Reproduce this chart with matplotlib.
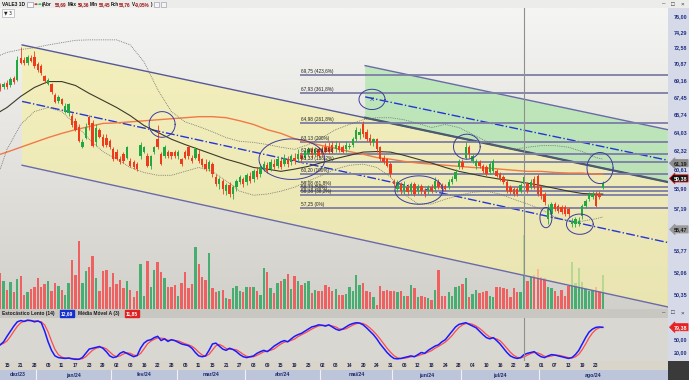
import numpy as np
import pandas as pd
import matplotlib
matplotlib.use("Agg")
import matplotlib.pyplot as plt
from matplotlib.colors import LinearSegmentedColormap
from matplotlib.patches import Rectangle, Polygon
from matplotlib.transforms import blended_transform_factory, offset_copy

plt.rcParams["font.family"] = ["Liberation Sans", "DejaVu Sans"]

# ---------------------------------------------------------------------------
# data (VALE3, daily, 2023-12-13 .. 2024-08-27)
# ---------------------------------------------------------------------------
first_day = "2023-12-13"
b3_holidays = ["2023-12-25", "2023-12-29", "2024-01-01", "2024-02-12",
               "2024-02-13", "2024-03-29", "2024-05-01", "2024-05-30"]

opens = [68.75, 68.45, 68.95, 68.65, 69.45, 69.25, 71.5, 71.3, 71.0, 71.5,
         71.6, 70.9, 70.7, 69.65, 68.85, 68.85, 67.65, 67.05, 67.25, 66.05,
         65.95, 65.65, 65.15, 64.6, 62.7, 63.55, 65.55, 64.95, 63.1, 64.3,
         63.65, 63.55, 63.2, 62.45, 62.2, 61.55, 62.0, 61.7, 61.35, 61.25,
         61.1, 61.8, 62.25, 61.8, 60.9, 62.2, 63.4, 62.0, 61.8, 62.2,
         62.2, 62.2, 61.8, 61.55, 62.2, 62.65, 61.7, 61.7, 62.0, 61.55,
         61.1, 60.65, 61.1, 59.95, 59.3, 59.6, 58.7, 59.2, 58.45, 59.05,
         59.5, 59.75, 59.5, 60.0, 59.75, 60.45, 60.2, 60.65, 61.0, 60.65,
         61.1, 60.9, 61.35, 61.1, 61.55, 61.25, 61.7, 61.55, 61.9, 61.7,
         62.0, 62.45, 62.0, 62.45, 62.45, 62.65, 62.7, 62.9, 62.45, 62.8,
         62.65, 62.45, 62.65, 62.9, 63.4, 63.75, 64.8, 64.1, 63.55, 63.1,
         63.4, 62.65, 61.7, 61.55, 61.1, 59.6, 58.9, 59.3, 58.7, 59.05,
         58.7, 59.3, 58.7, 59.15, 58.7, 58.7, 59.05, 58.9, 59.5, 59.2,
         59.15, 59.05, 59.5, 59.75, 60.8, 61.25, 61.7, 62.7, 61.35, 60.9,
         61.25, 60.9, 60.8, 60.35, 60.45, 60.45, 60.2, 59.95, 59.5, 59.05,
         58.9, 58.9, 58.7, 59.3, 59.3, 59.05, 59.75, 60.0, 59.05, 58.45,
         56.35, 56.75, 57.6, 57.4, 57.35, 57.35, 57.15, 55.9, 55.9, 55.9,
         56.6, 57.4, 58.0, 58.2, 58.45, 58.45, 58.95]
highs = [68.95, 69.05, 69.25, 69.55, 69.65, 71.7, 72.7, 71.6, 71.8, 71.8,
         72.2, 71.1, 70.9, 69.75, 69.45, 68.95, 67.85, 67.65, 67.35, 66.85,
         66.85, 65.95, 65.45, 64.8, 63.4, 64.9, 65.75, 65.25, 64.8, 64.5,
         63.85, 63.85, 63.4, 62.65, 62.45, 61.8, 62.2, 62.8, 61.7, 61.45,
         61.25, 63.1, 62.8, 62.1, 61.9, 62.8, 64.7, 62.2, 62.9, 62.35,
         62.25, 62.35, 62.35, 61.7, 62.35, 62.8, 61.9, 62.65, 62.45, 61.7,
         61.55, 61.45, 61.25, 60.2, 59.95, 59.75, 59.4, 59.5, 59.2, 59.75,
         60.1, 59.95, 60.3, 60.35, 60.65, 60.8, 61.1, 61.35, 61.25, 61.55,
         61.55, 61.8, 61.7, 62.0, 61.8, 62.0, 62.1, 62.45, 62.25, 62.45,
         62.7, 62.7, 62.7, 62.65, 62.8, 63.0, 63.1, 63.2, 63.2, 63.1,
         62.9, 63.2, 63.0, 63.65, 64.6, 64.5, 65.15, 64.4, 63.85, 63.55,
         63.55, 62.8, 61.9, 61.7, 61.25, 59.75, 59.65, 59.5, 59.6, 59.3,
         59.5, 59.5, 59.3, 59.3, 58.95, 59.2, 59.3, 59.95, 59.75, 59.4,
         59.3, 59.75, 60.0, 60.65, 61.55, 61.55, 63.1, 62.9, 62.0, 61.55,
         61.45, 61.1, 61.0, 61.25, 61.55, 60.65, 60.35, 60.1, 59.65, 59.2,
         59.05, 59.05, 59.4, 60.1, 59.5, 59.75, 60.0, 60.2, 59.2, 58.6,
         57.6, 57.75, 57.75, 57.6, 57.5, 57.5, 57.35, 56.4, 56.5, 56.5,
         57.6, 58.0, 58.6, 58.7, 58.7, 58.7, 59.55]
lows = [68.05, 68.25, 68.25, 68.45, 68.85, 69.15, 70.9, 70.8, 70.8, 71.1,
        70.5, 70.0, 69.75, 68.95, 68.65, 67.75, 66.85, 66.85, 66.65, 65.95,
        65.65, 64.6, 64.2, 63.1, 62.55, 63.4, 64.3, 62.65, 62.8, 63.55,
        62.65, 62.7, 62.45, 61.35, 61.45, 61.1, 61.2, 61.55, 60.8, 60.65,
        60.45, 61.6, 62.1, 60.8, 60.65, 62.0, 62.45, 61.0, 61.7, 61.7,
        61.6, 61.7, 61.6, 60.9, 61.6, 61.6, 61.2, 61.55, 61.2, 60.8,
        60.45, 60.45, 59.95, 59.15, 58.9, 58.45, 58.35, 58.2, 58.0, 58.7,
        59.3, 59.05, 59.2, 59.4, 59.5, 59.75, 59.95, 60.45, 60.3, 60.45,
        60.65, 60.75, 60.65, 60.9, 60.8, 61.0, 61.1, 61.25, 61.25, 61.55,
        61.8, 61.7, 61.8, 61.7, 61.8, 62.1, 62.0, 62.1, 62.25, 62.2,
        62.1, 62.25, 62.45, 62.7, 63.2, 63.45, 63.65, 63.2, 62.9, 62.8,
        62.25, 61.35, 61.1, 60.8, 59.95, 59.05, 58.6, 58.45, 58.45, 58.35,
        58.45, 58.25, 58.45, 58.45, 58.2, 58.45, 58.5, 58.7, 58.9, 58.7,
        58.7, 58.9, 59.3, 59.6, 60.65, 60.65, 61.55, 61.7, 61.2, 60.65,
        60.75, 60.3, 60.0, 60.2, 60.3, 59.95, 59.6, 59.3, 58.5, 58.45,
        58.25, 58.25, 58.5, 59.15, 58.5, 58.9, 58.9, 58.25, 58.0, 57.5,
        55.9, 56.5, 57.0, 56.85, 56.75, 56.6, 56.5, 55.65, 55.65, 55.75,
        56.35, 57.25, 57.85, 58.0, 57.35, 58.0, 58.85]
closes = [68.25, 68.85, 68.45, 69.35, 69.05, 71.3, 71.0, 71.0, 71.6, 71.2,
          70.7, 70.2, 69.9, 69.15, 69.25, 67.95, 66.95, 67.45, 66.75, 66.55,
          66.75, 64.7, 64.3, 63.2, 63.1, 64.6, 64.7, 62.8, 64.5, 63.65,
          62.8, 62.9, 62.65, 61.55, 61.55, 61.25, 61.35, 62.65, 60.9, 60.8,
          60.65, 62.9, 62.65, 60.9, 61.8, 62.65, 62.65, 61.1, 62.7, 61.8,
          61.8, 61.8, 62.2, 61.1, 61.7, 61.8, 61.35, 62.45, 61.35, 61.0,
          60.65, 61.25, 60.2, 59.3, 59.75, 58.9, 59.2, 58.45, 59.05, 59.6,
          59.95, 59.3, 60.1, 59.6, 60.45, 59.95, 60.8, 61.1, 60.45, 61.25,
          60.8, 61.55, 60.8, 61.7, 61.1, 61.8, 61.35, 62.0, 61.55, 62.2,
          62.45, 61.9, 62.45, 61.8, 62.0, 62.25, 62.2, 62.25, 62.9, 62.35,
          62.25, 62.9, 62.8, 63.4, 64.3, 64.1, 63.85, 63.4, 63.1, 63.4,
          62.45, 61.55, 61.25, 60.9, 60.2, 59.3, 59.5, 58.7, 59.3, 58.6,
          59.3, 58.45, 59.15, 58.7, 58.45, 59.05, 58.7, 59.6, 59.05, 58.9,
          58.9, 59.5, 59.75, 60.35, 61.35, 60.8, 62.7, 62.0, 61.8, 61.35,
          60.9, 60.45, 60.2, 61.1, 61.35, 60.0, 59.75, 59.5, 58.7, 58.6,
          58.45, 58.45, 59.2, 59.95, 58.7, 59.5, 59.05, 58.45, 58.25, 57.75,
          57.15, 57.6, 57.15, 57.0, 56.9, 56.75, 56.75, 56.15, 56.35, 56.15,
          57.4, 57.85, 58.45, 58.45, 57.4, 58.2, 59.38]
volume_mm = [35.7, 27.7, 19.0, 26.7, 16.7, 29.7, 33.0, 14.3, 16.7, 20.0,
             21.7, 31.0, 22.3, 25.0, 27.7, 17.7, 25.7, 23.3, 19.0, 14.3,
             25.7, 49.0, 34.3, 67.7, 25.7, 38.3, 42.3, 53.3, 30.7, 17.7,
             38.3, 39.0, 22.3, 35.7, 25.0, 29.0, 21.0, 28.3, 19.0, 12.3,
             17.7, 45.0, 13.3, 47.7, 21.7, 39.0, 46.7, 36.7, 31.0, 22.3,
             22.3, 24.3, 13.3, 26.3, 36.7, 21.0, 25.0, 61.7, 45.0, 32.3,
             29.0, 56.0, 20.7, 16.7, 17.7, 19.0, 11.0, 10.0, 21.0, 23.0,
             18.3, 16.7, 22.3, 22.3, 22.3, 18.3, 14.3, 40.7, 36.7, 21.0,
             15.7, 26.3, 28.3, 29.7, 35.0, 19.7, 33.3, 27.7, 24.0, 26.3,
             28.3, 15.7, 19.0, 18.3, 17.7, 24.3,
             22.3, 18.3, 20.0, 14.3, 14.0, 15.0, 21.7, 17.7, 34.3, 23.7,
             25.7, 18.3, 16.7, 11.7, 4.3, 22.7, 18.3, 19.0, 18.3, 17.7,
             16.7, 17.7, 13.3, 13.3, 24.0, 21.0, 12.3, 13.3, 11.7, 11.0,
             9.0, 19.0, 39.0, 13.3, 13.3, 17.3, 13.3, 22.3, 23.3, 25.0,
             31.0, 11.7, 15.0, 19.0, 15.7, 16.7, 17.7, 13.3, 11.7, 21.7,
             22.3, 21.0, 20.0, 12.3, 21.0, 16.7, 16.7, 74.3, 27.7, 33.3,
             34.3, 40.0, 32.3, 31.0, 22.3, 21.0, 18.3, 13.3, 19.0, 13.3,
             23.3, 47.3, 25.7, 40.7, 27.3, 20.0, 18.3, 17.7, 22.3, 17.7,
             34.3]
stoch_k = [38, 45, 58, 70, 82, 92, 95, 93, 96, 95, 92, 94,
           90, 70, 45, 25, 12, 8, 7, 6, 7, 5,
           4, 4, 8, 18, 28, 30, 32, 34, 30, 22,
           12, 8, 10, 18, 22, 18, 14, 10, 13, 30,
           42, 48, 50, 55, 58, 48, 52, 46, 50, 48,
           44, 40, 38, 36, 30, 20, 12, 10, 12, 25,
           40, 42, 35, 28, 25, 30, 27, 22, 15, 10,
           8, 10, 12, 18, 22, 25, 22, 28, 35, 40,
           45, 48, 45, 52, 58, 62, 65, 70, 75, 80,
           82, 85, 84, 82, 85, 80, 75, 72, 75, 80,
           85, 88, 90, 89, 85, 78, 70, 62, 52, 40,
           30, 20, 12, 6, 5, 6, 8, 10, 12, 10,
           15, 20, 18, 25, 30, 35, 38, 45, 50, 60,
           70, 80, 86, 88, 90, 86, 82, 78, 70, 62,
           55, 52, 55, 48, 40, 30, 20, 12, 8, 6,
           8, 15, 18, 20, 22, 15, 10, 8, 12, 15,
           14, 12, 10, 8, 6, 8, 15, 25, 40, 55,
           68, 75, 79, 80, 79]

# indicator lines, read every 4th session (session index -2, 0, 4, ..., 172, 174)
ma_short = [66.05, 66.45, 67.55, 68.45, 69.05, 69.05, 68.65, 67.85, 67.15, 66.45,
            65.65, 64.7, 64.05, 63.4, 62.9, 62.45, 62.0, 61.55, 61.2, 60.8,
            60.65, 60.45, 60.65, 60.9, 61.25, 61.6, 61.9, 62.2, 62.25, 62.2,
            61.9, 61.55, 61.2, 60.8, 60.45, 60.2, 59.95, 59.75, 59.6, 59.4,
            59.2, 58.95, 58.7, 58.5, 58.45, 58.45]
ma_long = [62.0, 62.2, 62.65, 63.1, 63.55, 63.95, 64.3, 64.6, 64.9, 64.95,
           65.05, 65.15, 65.25, 65.35, 65.45, 65.55, 65.55, 65.45, 65.15, 64.8,
           64.3, 63.95, 63.45, 63.1, 62.8, 62.55, 62.25, 62.0, 61.7, 61.55,
           61.35, 61.2, 61.1, 61.0, 60.9, 60.8, 60.75, 60.65, 60.55, 60.45,
           60.45, 60.35, 60.3, 60.3, 60.2, 60.2]
bb_upper = [71.8, 72.1, 72.4, 72.6, 72.9, 73.15, 73.4, 73.45, 73.45, 73.45,
            72.9, 71.1, 68.25, 66.05, 65.05, 64.6, 64.1, 63.55, 63.2, 63.1,
            62.9, 62.65, 62.45, 62.9, 63.55, 64.3, 64.8, 65.25, 65.45, 65.45,
            65.25, 64.9, 64.5, 64.8, 64.5, 63.85, 63.2, 62.65, 62.45, 62.65,
            62.8, 62.8, 62.65, 62.25, 61.7, 61.55]
bb_lower = [60.65, 62.45, 64.8, 66.05, 66.45, 66.05, 64.8, 63.4, 62.25, 61.55,
            60.8, 60.35, 60.1, 60.1, 60.45, 60.8, 60.45, 59.6, 58.7, 58.35,
            58.45, 58.7, 59.05, 59.6, 60.1, 60.65, 61.0, 61.1, 60.8, 59.95,
            58.45, 57.6, 57.6, 58.0, 58.35, 58.6, 58.7, 58.45, 58.0, 57.6,
            57.15, 56.5, 56.15, 56.15, 56.35, 56.5]

# regression channels: (start session, end session, top, mid, bottom prices)
channel_yellow = (4.4, 193.0, (72.9, 59.5), (67.05, 54.4), (61.0, 49.45))
channel_green = (104.6, 193.0, (70.7, 64.3), (67.5, 61.45), (65.45, 59.5))

fib_prices = [69.75, 67.93, 64.98, 63.13, 62.00, 61.33, 60.20, 59.08, 58.73, 58.38, 57.25]
fib_pcts = ["423,6%", "361,8%", "261,8%", "200%", "161,8%", "138,2%", "100%",
            "61,8%", "50%", "38,2%", "0%"]
fib_start = 85.6

# hand-drawn ellipses: session, price, half width (sessions), half height (log)
ellipses = [(45.3, 64.8, 3.8, 0.019), (83.2, 61.55, 9.6, 0.030),
            (106.6, 67.25, 3.8, 0.015), (134.3, 62.7, 3.9, 0.0185),
            (120.3, 58.8, 7.0, 0.021), (157.4, 56.45, 1.75, 0.015),
            (167.3, 55.9, 3.9, 0.015), (173.2, 60.75, 3.8, 0.023)]
cursor_session = 151

price_ticks = [50.35, 52.06, 53.77, 55.48, 57.19, 58.90, 60.61, 62.32,
               64.03, 65.74, 67.45, 69.16, 70.87, 72.58, 74.29, 76.00]

# ---------------------------------------------------------------------------
W, H = 689, 380
XL = (-2.05, 193.05)
fig = plt.figure(figsize=(W / 100, H / 100), dpi=100)
fig.patch.set_facecolor("#d9d7d1")


def axes_px(x0, y0, x1, y1):
    return fig.add_axes([x0 / W, 1 - y1 / H, (x1 - x0) / W, (y1 - y0) / H])


def rect_px(x0, y0, x1, y1, fc, ec="none", lw=0, z=0):
    fig.add_artist(Rectangle((x0 / W, 1 - y1 / H), (x1 - x0) / W, (y1 - y0) / H,
                             transform=fig.transFigure, fc=fc, ec=ec, lw=lw, zorder=z))


def text_px(x, y, s, **kw):
    return fig.text(x / W, 1 - y / H, s, **kw)


def fmt(v):
    return f"{v:.2f}".replace(".", ",")


cal = pd.bdate_range(first_day, "2024-10-31")
cal = cal[~cal.isin(pd.to_datetime(b3_holidays))]
n = len(closes)
sess = np.arange(n) - 2
line_sess = np.array([-2] + list(range(0, 173, 4)) + [174])

o, h, l, c = (np.array(a) for a in (opens, highs, lows, closes))
up = c >= o

# ---- window frame ----
rect_px(0, 0, 689, 8, "#ececea", z=-1)
rect_px(668, 8, 689, 361, "#d6d9e8", z=-1)
rect_px(0, 309, 668, 318, "#c9c7c1", z=-1)
rect_px(0, 361, 668, 370, "#d9d5ca", z=-1)
rect_px(0, 370, 668, 380, "#bcc5da", z=-1)
rect_px(668, 361, 689, 380, "#3a3a3a", z=-1)

# ---- volume + background ----
vax = axes_px(0, 8, 668, 309)
bg = LinearSegmentedColormap.from_list("bg", ["#f5f5f3", "#d2d0ca"])
vax.imshow(np.linspace(0, 1, 256)[:, None], cmap=bg, extent=[0, 1, 0, 1],
           transform=vax.transAxes, aspect="auto", zorder=0)
vax.bar(sess, volume_mm, width=0.7, color=np.where(up, "#48ad70", "#ef6060"),
        lw=0, zorder=1)
vax.set_xlim(XL)
vax.set_ylim(0, 301)
vax.axis("off")

# ---- price panel ----
ax = axes_px(0, 8, 668, 309)
ax.patch.set_visible(False)
ax.set_yscale("log")
ax.set_xlim(XL)
ax.set_ylim(49.3, 77.0)
ax.axis("off")


def channel(spec, fc, alpha, z, edge_top, edge_bot, lw_bot):
    s0, s1, top, mid, bot = spec
    ax.add_patch(Polygon([(s0, top[0]), (s1, top[1]), (s1, bot[1]), (s0, bot[0])],
                         closed=True, fc=fc, alpha=alpha, lw=0, zorder=z))
    ax.plot([s0, s1], top, color=edge_top, lw=1.0, zorder=2)
    ax.plot([s0, s1], bot, color=edge_bot, lw=lw_bot, zorder=2)
    ax.plot([s0, s1], mid, color="#2436d6", lw=1.0, ls="-.", zorder=2)


channel(channel_yellow, "#f6f0a4", 0.65, 1, "#55589a", "#6a6aa8", 1.0)
channel(channel_green, "#a3e4a0", 0.62, 1.1, "#6a6aa8", "#4b5a70", 1.6)

ax.hlines(fib_prices, fib_start, XL[1], color="#7d7ea6", lw=1.3, zorder=2.5)
for p, pct in zip(fib_prices, fib_pcts):
    ax.text(fib_start + 0.3, p * 1.0015, f"{fmt(p)} ({pct})", fontsize=3.4,
            color="#222222", va="bottom", ha="left", zorder=6)

ax.plot(line_sess, ma_long, color="#f07a45", lw=1.0, zorder=3)
ax.plot(line_sess, ma_short, color="#3b3b2a", lw=0.8, zorder=3)
ax.plot(line_sess, bb_upper, color="#6e6e6e", lw=0.6, ls=(0, (1, 1.2)), zorder=3)
ax.plot(line_sess, bb_lower, color="#6e6e6e", lw=0.6, ls=(0, (1, 1.2)), zorder=3)

col = np.where(up, "#22a840", "#ee3b1c")
ax.vlines(sess, l, h, colors=col, lw=0.6, zorder=4)
lo = np.minimum(o, c)
hi = np.maximum(np.maximum(o, c), lo * 1.0008)
ax.bar(sess, hi - lo, bottom=lo, width=0.7, color=col, lw=0, zorder=4.1)

t = np.linspace(0, 2 * np.pi, 120)
for cs, cp, hw, hh in ellipses:
    ax.plot(cs + hw * np.cos(t), cp * np.exp(hh * np.sin(t)), color="#3c3c9c",
            lw=0.7, zorder=5)
ax.text(ellipses[2][0], ellipses[2][1], "X", color="#2a2aa0", fontsize=4.5,
        ha="center", va="center", zorder=6)
ax.axvline(cursor_session, color="#8f8f8f", lw=0.8, zorder=4.5)

# right price scale
tr = blended_transform_factory(fig.transFigure, ax.transData)
for p in price_ticks:
    ax.text(687 / W, p, fmt(p), transform=tr, fontsize=3.9, fontweight="bold",
            color="#1f2f80", ha="right", va="center", clip_on=False)
for p, s, fc, ec, tc, dy in [(61.19, "61,19", "#8c8c8c", "#8c8c8c", "#1a1a1a", 0),
                             (59.38, "59,38", "#111111", "#e02020", "white", 5),
                             (55.47, "55,47", "#9a9a9a", "#9a9a9a", "#1a1a1a", 0)]:
    ax.text(687 / W, p, s, transform=offset_copy(tr, fig=fig, y=dy, units="dots"),
            fontsize=3.9, fontweight="bold", color=tc, ha="right", va="center",
            clip_on=False, zorder=10,
            bbox=dict(boxstyle="larrow,pad=0.2", fc=fc, ec=ec, lw=0.6))

# ---- stochastic panel ----
sax = axes_px(0, 318, 668, 361)
sax.set_facecolor("#d7d5cf")
stoch_d = pd.Series(stoch_k, dtype=float).rolling(3, min_periods=1).mean()
sax.plot(sess, stoch_d, color="#ff4a4a", lw=0.9)
sax.plot(sess, stoch_k, color="#1a1aff", lw=1.1)
sax.axvline(cursor_session, color="#8f8f8f", lw=0.8)
sax.set_xlim(XL)
sax.set_ylim(0, 101)
sax.axis("off")
trs = blended_transform_factory(fig.transFigure, sax.transData)
for v in (50, 20):
    sax.text(687 / W, v, fmt(v), transform=trs, fontsize=3.9, fontweight="bold",
             color="#1f2f80", ha="right", va="center", clip_on=False)
sax.text(687 / W, 79.38, "79,38", transform=trs, fontsize=3.9, fontweight="bold",
         color="white", ha="right", va="center", clip_on=False,
         bbox=dict(boxstyle="larrow,pad=0.2", fc="#e82020", ec="#e82020", lw=0.5))

# stochastic header
text_px(2, 313.5, "Estocástico Lento (14)", fontsize=3.5, fontweight="bold",
        color="#1a1a1a", va="center")
text_px(61, 313.5, "12,69", fontsize=3.5, fontweight="bold", color="white",
        va="center", bbox=dict(boxstyle="square,pad=0.15", fc="#1630d0", ec="#1630d0"))
text_px(78, 313.5, "Média Móvel A (3)", fontsize=3.5, fontweight="bold",
        color="#1a1a1a", va="center")
text_px(126, 313.5, "11,85", fontsize=3.5, fontweight="bold", color="white",
        va="center", bbox=dict(boxstyle="square,pad=0.15", fc="#e02020", ec="#e02020"))
for x, s in [(664, "–"), (673, "□"), (682, "×")]:
    text_px(x, 313, s, fontsize=4.5, color="#333333", ha="center", va="center")

# ---- time axis ----
trx = blended_transform_factory(ax.transData, fig.transFigure)
tick_sess = np.arange(0, 173, 4)
for s in tick_sess:
    fig.text(s, 1 - 365.5 / H, cal[s + 2].strftime("%d"), transform=trx,
             fontsize=3.5, fontweight="bold", color="#1e2050", ha="center", va="center")
months = pd.Series(np.arange(len(cal)) - 2, index=cal)
months = months[(months >= -2) & (months <= 174)]
mnames = ["jan", "fev", "mar", "abr", "mai", "jun", "jul", "ago", "set", "out", "nov", "dez"]
groups = list(months.groupby(months.index.to_period("M")))
for k, (per, g) in enumerate(groups):
    s0 = max(g.iloc[0] - 0.5, XL[0])
    s1 = XL[1] - 6 if k == len(groups) - 1 else g.iloc[-1] + 0.5
    if k > 0:
        fig.add_artist(plt.Line2D([s0, s0], [0, 10 / H], transform=trx,
                                  color="#f2f2f6", lw=0.8))
    fig.text((s0 + s1) / 2, 1 - 375 / H, f"{mnames[per.month - 1]}/{per.year % 100}",
             transform=trx, fontsize=3.7, fontweight="bold", color="#1e2a6a",
             ha="center", va="center")

# ---- title bar ----
text_px(2, 4.2, "VALE3 1D", fontsize=3.5, fontweight="bold", color="#111111", va="center")
rect_px(27, 1.5, 32.5, 7, "#f8f8f8", ec="#8080a0", lw=0.4, z=3)
fig.add_artist(plt.Circle((36 / W, 1 - 4.2 / H), 1.6 / W, transform=fig.transFigure,
                          fc="#b03a1a", zorder=3))
fig.add_artist(plt.Circle((39.8 / W, 1 - 4.2 / H), 1.6 / W, transform=fig.transFigure,
                          fc="#22cc44", zorder=3))
for x, s, colr in [(42, "(Abr", "#111111"), (55, "58,69", "#a01010"),
                   (68, "Máx", "#111111"), (78, "59,36", "#a01010"),
                   (90, "Mín", "#111111"), (99, "58,45", "#a01010"),
                   (111, "Fch", "#111111"), (119, "58,76", "#a01010"),
                   (132, "V", "#111111"), (135, "-0,05%", "#a01010"),
                   (150, ")", "#111111")]:
    text_px(x, 4.2, s, fontsize=3.3, fontweight="bold", color=colr, va="center")
rect_px(154, 1.5, 159, 7, "#f4f4f4", ec="#9090a0", lw=0.4, z=3)
rect_px(161, 1.5, 166, 7, "#f4f4f4", ec="#9090a0", lw=0.4, z=3)
for x, s in [(664, "–"), (673, "□"), (682, "×")]:
    text_px(x, 4, s, fontsize=4.5, color="#333333", ha="center", va="center")
rect_px(2, 9.5, 14, 17, "#fbfbfb", ec="#a0a0b0", lw=0.4, z=3)
text_px(8, 13.3, "▼ 3", fontsize=3.3, color="#222222", ha="center", va="center",
        family="DejaVu Sans")

fig.savefig("out.png", dpi=100)
